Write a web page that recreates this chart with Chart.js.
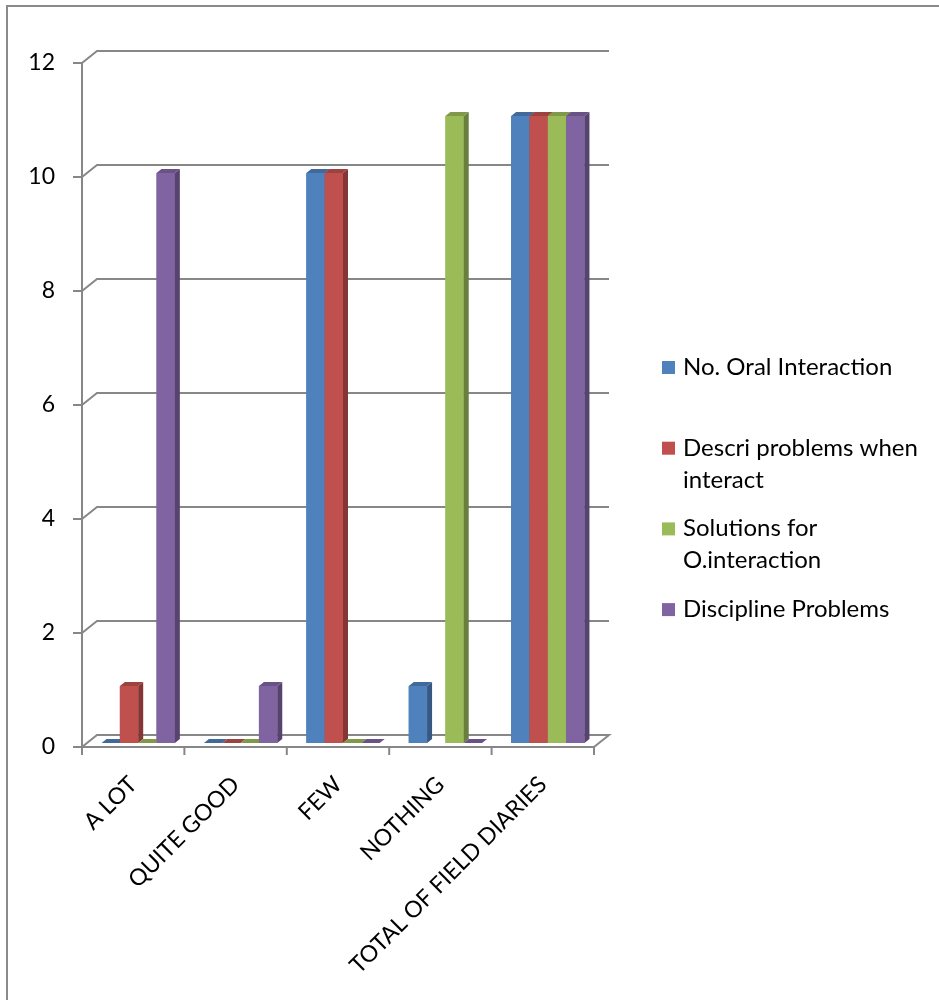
<!DOCTYPE html>
<html>
<head>
<meta charset="utf-8">
<script src="https://cdn.jsdelivr.net/npm/chart.js@4/dist/chart.umd.min.js"></script>
<style>
  html, body { margin: 0; padding: 0; background: #ffffff; }
  canvas { display: block; }
</style>
</head>
<body>
<canvas id="chart" width="939" height="1000"></canvas>
<script>
// Categories, series and tick values
const categories = ['A LOT', 'QUITE GOOD', 'FEW', 'NOTHING', 'TOTAL OF FIELD DIARIES'];
const seriesNames = ['No. Oral Interaction', 'Descri problems when interact', 'Solutions for O.interaction', 'Discipline Problems'];
const oralInteraction = [0, 0, 10, 1, 11];
const describedProblems = [1, 0, 10, null, 11];
const solutionsInteraction = [0, 0, 0, 11, 11];
const disciplineProblems = [10, 1, 0, 0, 11];
const yTicks = [0, 2, 4, 6, 8, 10, 12];
const seriesColors = ['#4F81BD', '#C0504D', '#9BBB59', '#8064A2'];

// Layout of the pseudo-3D box
const FRONT = { left: 82, right: 594, top: 63, bottom: 747 };
const WALL = { dx: 15, dy: -12 };      // back wall offset from the front plane
const BAR_SHIFT = { dx: 5, dy: -4 };   // bars sit a little behind the front plane
const BAR_DEPTH = { dx: 5, dy: -4 };   // depth of each bar
const AXIS_COLOR = '#878787';
const FONT_FAMILY = 'Lato, "Open Sans", sans-serif';
const FONT_SIZE = 23;
const LEGEND_FONT_SIZE = 24;

function shade(hex, f) {
  const n = parseInt(hex.slice(1), 16);
  const r = Math.round(((n >> 16) & 255) * f);
  const g = Math.round(((n >> 8) & 255) * f);
  const b = Math.round((n & 255) * f);
  return `rgb(${r},${g},${b})`;
}

function wrapText(ctx, text, maxWidth) {
  const words = text.split(' ');
  const lines = [];
  let line = '';
  for (const w of words) {
    const test = line ? line + ' ' + w : w;
    if (line && ctx.measureText(test).width > maxWidth) {
      lines.push(line);
      line = w;
    } else {
      line = test;
    }
  }
  if (line) lines.push(line);
  return lines;
}

const box3d = {
  id: 'box3d',
  beforeDraw(chart) {
    const ctx = chart.ctx;
    const y = chart.scales.y;
    ctx.save();
    // outer frame
    ctx.strokeStyle = '#8a8a8a';
    ctx.lineWidth = 2;
    ctx.beginPath();
    ctx.moveTo(7, 1000);
    ctx.lineTo(7, 6);
    ctx.lineTo(939, 6);
    ctx.stroke();

    // back wall gridlines with their side connectors
    ctx.strokeStyle = AXIS_COLOR;
    ctx.lineWidth = 2;
    yTicks.forEach(v => {
      const py = y.getPixelForValue(v);
      ctx.beginPath();
      ctx.moveTo(FRONT.left, py);
      ctx.lineTo(FRONT.left + WALL.dx, py + WALL.dy);
      ctx.lineTo(FRONT.right + WALL.dx, py + WALL.dy);
      if (v === yTicks[0]) {
        ctx.lineTo(FRONT.right, py);
      }
      ctx.stroke();
    });
    ctx.restore();
  },
  beforeDatasetsDraw(chart) {
    chart.ctx.save();
    chart.ctx.translate(BAR_SHIFT.dx, BAR_SHIFT.dy);
  },
  afterDatasetsDraw(chart) {
    const ctx = chart.ctx;
    // repaint bars series by series so later series cover earlier side faces
    chart.data.datasets.forEach((ds, i) => {
      const meta = chart.getDatasetMeta(i);
      meta.data.forEach((el, j) => {
        if (ds.data[j] === null || ds.data[j] === undefined) return;
        const { x, y, base, width } = el.getProps(['x', 'y', 'base', 'width'], true);
        const l = x - width / 2, r = x + width / 2;
        const top = Math.min(y, base), bottom = Math.max(y, base);
        const color = ds.backgroundColor;
        if (bottom - top > 0.5) {
          el.draw(ctx);
        }
        // side face
        ctx.fillStyle = shade(color, 0.68);
        ctx.beginPath();
        ctx.moveTo(r, top);
        ctx.lineTo(r + BAR_DEPTH.dx, top + BAR_DEPTH.dy);
        ctx.lineTo(r + BAR_DEPTH.dx, bottom + BAR_DEPTH.dy);
        ctx.lineTo(r, bottom);
        ctx.closePath();
        ctx.fill();
        // top face
        ctx.fillStyle = shade(color, 0.82);
        ctx.beginPath();
        ctx.moveTo(l, top);
        ctx.lineTo(r, top);
        ctx.lineTo(r + BAR_DEPTH.dx, top + BAR_DEPTH.dy);
        ctx.lineTo(l + BAR_DEPTH.dx, top + BAR_DEPTH.dy);
        ctx.closePath();
        ctx.fill();
      });
    });
    ctx.restore();

    // front axes
    const xs = chart.scales.x, ys = chart.scales.y;
    ctx.save();
    ctx.strokeStyle = AXIS_COLOR;
    ctx.lineWidth = 2;
    ctx.beginPath();
    ctx.moveTo(FRONT.left, ys.getPixelForValue(yTicks[yTicks.length - 1]));
    ctx.lineTo(FRONT.left, FRONT.bottom + 8);
    yTicks.forEach(v => {
      const py = ys.getPixelForValue(v);
      ctx.moveTo(FRONT.left - 9, py);
      ctx.lineTo(FRONT.left, py);
    });
    ctx.moveTo(FRONT.left - 9, FRONT.bottom);
    ctx.lineTo(FRONT.right, FRONT.bottom);
    const step = (xs.right - xs.left) / categories.length;
    for (let k = 0; k <= categories.length; k++) {
      const px = xs.left + k * step;
      ctx.moveTo(px, FRONT.bottom);
      ctx.lineTo(px, FRONT.bottom + 8);
    }
    ctx.stroke();
    ctx.restore();
  },
  afterDraw(chart) {
    const ctx = chart.ctx;
    ctx.save();
    ctx.font = `${LEGEND_FONT_SIZE}px ${FONT_FAMILY}`;
    ctx.textBaseline = 'alphabetic';
    ctx.textAlign = 'left';
    let baseline = 375;
    chart.data.datasets.forEach(ds => {
      const lines = wrapText(ctx, ds.label, 250);
      ctx.fillStyle = ds.backgroundColor;
      ctx.fillRect(662, baseline - 14, 13, 13);
      ctx.fillStyle = '#000000';
      lines.forEach((line, k) => ctx.fillText(line, 683, baseline + k * 32));
      baseline += 80.7;
    });
    ctx.restore();
  }
};

const seriesValues = [oralInteraction, describedProblems, solutionsInteraction, disciplineProblems];

new Chart(document.getElementById('chart'), {
  type: 'bar',
  data: {
    labels: categories,
    datasets: seriesNames.map((name, i) => ({
      label: name,
      data: seriesValues[i],
      backgroundColor: seriesColors[i],
      borderWidth: 0,
      categoryPercentage: 0.716,
      barPercentage: 1.0
    }))
  },
  options: {
    responsive: false,
    animation: false,
    devicePixelRatio: 1,
    layout: { padding: { left: 0, top: FRONT.top, right: 939 - FRONT.right, bottom: 0 } },
    plugins: {
      legend: { display: false },
      tooltip: { enabled: false }
    },
    scales: {
      x: {
        grid: { display: false, drawTicks: false },
        border: { display: false },
        ticks: {
          autoSkip: false,
          minRotation: 45,
          maxRotation: 45,
          padding: 24,
          color: '#000000',
          font: { family: FONT_FAMILY, size: FONT_SIZE }
        },
        afterFit(scale) { scale.height = 1000 - FRONT.bottom; }
      },
      y: {
        min: 0,
        max: 12,
        grid: { display: false, drawTicks: false },
        border: { display: false },
        ticks: {
          padding: 27,
          color: '#000000',
          font: { family: FONT_FAMILY, size: FONT_SIZE }
        },
        afterBuildTicks(scale) { scale.ticks = yTicks.map(v => ({ value: v })); },
        afterFit(scale) { scale.width = FRONT.left; }
      }
    }
  },
  plugins: [box3d]
});
</script>
</body>
</html>
